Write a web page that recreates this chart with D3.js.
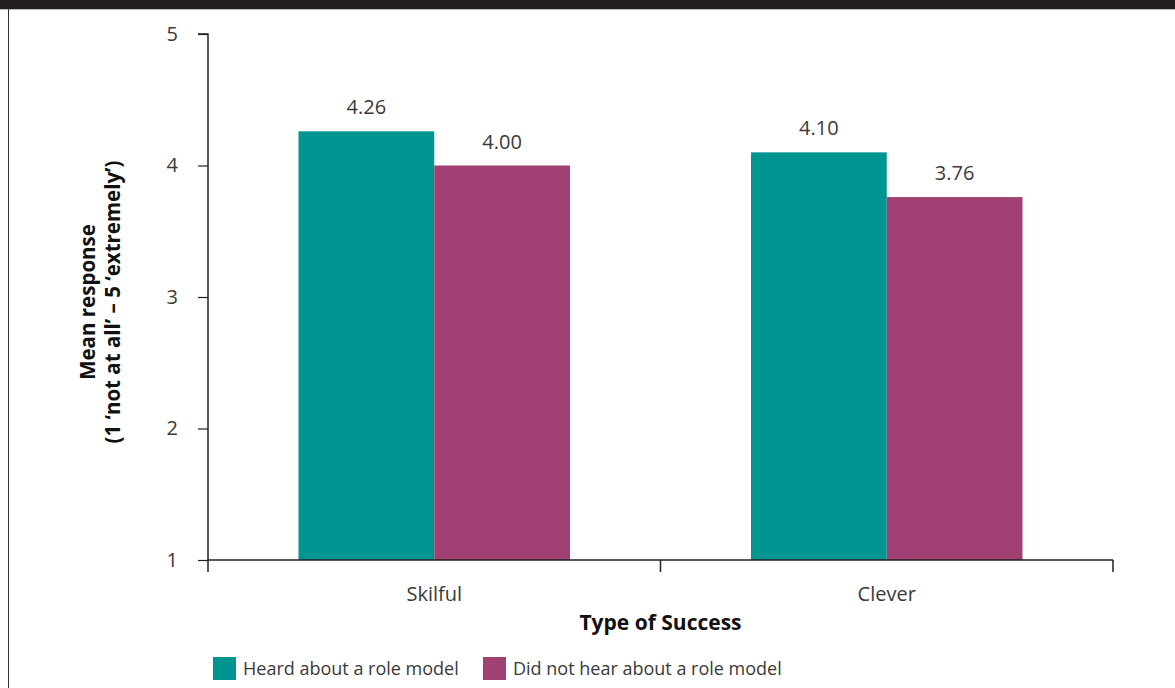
<!DOCTYPE html>
<html><head><meta charset="utf-8">
<script src="https://cdn.jsdelivr.net/npm/d3@7"></script>
<style>
html,body{margin:0;padding:0;background:#fff;}
svg{display:block;font-family:"Open Sans","Noto Sans",sans-serif;}
</style></head>
<body>
<svg id="chart" width="1175" height="688"></svg>
<script>
const categories = ["Skilful", "Clever"];
const seriesNames = ["Heard about a role model", "Did not hear about a role model"];
const heardValues = [4.26, 4.10];
const notHeardValues = [4.00, 3.76];
const valueLabels = [["4.26", "4.00"], ["4.10", "3.76"]];
const yTicks = [1, 2, 3, 4, 5];
const colors = ["#009590", "#a04073"];

const svg = d3.select("#chart");
const W = 1175, H = 688;
const x0 = 208, x1 = 1113, yTop = 34, yBot = 560;

// frame: dark top band and left border
svg.append("rect").attr("x", 0).attr("y", 0).attr("width", W).attr("height", 9).attr("fill", "#231f20");
svg.append("line").attr("x1", 0).attr("x2", W).attr("y1", 9.5).attr("y2", 9.5).attr("stroke", "#bbb").attr("stroke-width", 1);
svg.append("line").attr("x1", 8.5).attr("x2", 8.5).attr("y1", 9).attr("y2", H).attr("stroke", "#333").attr("stroke-width", 1);

const y = d3.scaleLinear().domain([1, 5]).range([yBot, yTop]);
const xb = d3.scaleBand().domain(categories).range([x0, x1]).paddingInner(0.4).paddingOuter(0.2);
const xs = d3.scaleBand().domain([0, 1]).range([0, xb.bandwidth()]);

const data = categories.map((c, i) => ({cat: c, vals: [heardValues[i], notHeardValues[i]], labels: valueLabels[i]}));

const g = svg.append("g");
data.forEach(d => {
  d.vals.forEach((v, j) => {
    const bx = xb(d.cat) + xs(j);
    g.append("rect").attr("x", bx).attr("y", y(v)).attr("width", xs.bandwidth()).attr("height", y(1) - y(v)).attr("fill", colors[j]);
    g.append("text").attr("x", bx + xs.bandwidth() / 2).attr("y", y(v) - 17)
      .attr("text-anchor", "middle").attr("font-size", 20).attr("fill", "#3a3a3a").text(d.labels[j]);
  });
});

// y axis
const yAxis = d3.axisLeft(y).tickValues(yTicks).tickFormat(d3.format("d")).tickSize(10).tickPadding(20);
const ya = svg.append("g").attr("transform", `translate(${x0},0)`).call(yAxis);
ya.select(".domain").attr("stroke", "#231f20").attr("stroke-width", 1.5).attr("d", `M-10,${yTop}H0V${yBot}`);
ya.selectAll(".tick line").attr("stroke", "#231f20").attr("stroke-width", 1.2);
ya.selectAll(".tick text").attr("font-size", 20).attr("fill", "#3a3a3a").attr("font-family", "Open Sans, Noto Sans, sans-serif");

// x axis with ticks at band boundaries
const boundaries = [x0, (xb("Skilful") + xb.bandwidth() + xb("Clever")) / 2, x1];
const xa = svg.append("g");
xa.append("line").attr("x1", x0).attr("x2", x1).attr("y1", yBot).attr("y2", yBot).attr("stroke", "#231f20").attr("stroke-width", 1.5);
boundaries.forEach(b => {
  xa.append("line").attr("x1", b).attr("x2", b).attr("y1", yBot).attr("y2", yBot + 12).attr("stroke", "#231f20").attr("stroke-width", 1.5);
});
categories.forEach(c => {
  xa.append("text").attr("x", xb(c) + xb.bandwidth() / 2).attr("y", 601).attr("text-anchor", "middle")
    .attr("font-size", 20).attr("fill", "#3a3a3a").text(c);
});

// axis titles
svg.append("text").attr("x", (x0 + x1) / 2).attr("y", 630).attr("text-anchor", "middle")
  .attr("font-size", 21).attr("font-weight", "bold").attr("fill", "#111").text("Type of Success");
const yt = svg.append("text").attr("transform", `translate(0,${(yTop + yBot) / 2 + 5}) rotate(-90)`)
  .attr("text-anchor", "middle").attr("font-size", 20.5).attr("font-weight", "bold").attr("fill", "#111");
yt.append("tspan").attr("x", 0).attr("y", 95).text("Mean response");
yt.append("tspan").attr("x", 0).attr("y", 120).text("(1 \u2018not at all\u2019 \u2013 5 \u2018extremely\u2019)");

// legend
const legendX = [213, 483];
seriesNames.forEach((s, i) => {
  svg.append("rect").attr("x", legendX[i]).attr("y", 657).attr("width", 23).attr("height", 23).attr("fill", colors[i]);
  svg.append("text").attr("x", legendX[i] + 30).attr("y", 675).attr("font-size", 18).attr("fill", "#3a3a3a").text(s);
});
</script>
</body></html>
